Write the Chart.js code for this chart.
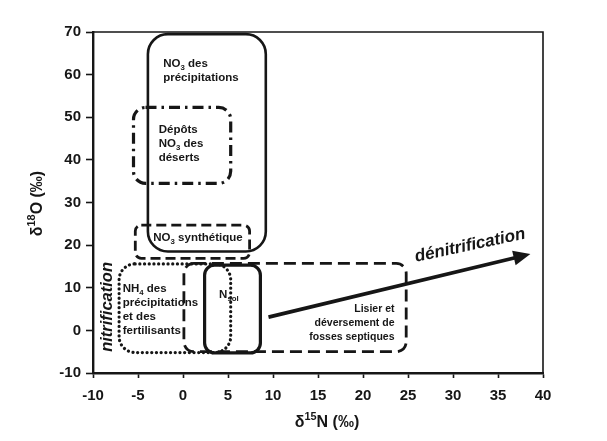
<!DOCTYPE html>
<html><head><meta charset="utf-8">
<script src="https://cdn.jsdelivr.net/npm/chart.js@4/dist/chart.umd.min.js"></script>
<style>html,body{margin:0;padding:0;background:#fff}#wrap{width:607px;height:441px}</style>
</head><body><div id="wrap"><canvas id="c" width="607" height="441"></canvas></div>
<script>
// ---- data ----
const xTicks = [-10, -5, 0, 5, 10, 15, 20, 25, 30, 35, 40];
const yTicks = [-10, 0, 10, 20, 30, 40, 50, 60, 70];
const boxNames = ['NO3 des précipitations', 'Dépôts NO3 des déserts', 'NO3 synthétique',
                  'NH4 des précipitations et des fertilisants', 'N sol', 'Lisier et déversement de fosses septiques'];
const boxXMin = [-3.9, -5.5, -5.3, -7.1, 2.4, 0.1];
const boxXMax = [9.2, 5.3, 7.4, 5.3, 8.6, 24.8];
const boxYMin = [18.5, 34.5, 16.9, -5.2, -5.3, -5.0];
const boxYMax = [69.5, 52.3, 24.7, 15.6, 15.3, 15.7];
const arrowX = [9.5, 38.6];
const arrowY = [3.1, 17.9];

// ---- styles (not data) ----
const INK = '#161616';
const FAM = '"Liberation Sans", Arial, sans-serif';
const boxStyles = [
  {dash: [], width: 2.6, radius: 20, cap: 'butt'},
  {dash: [11, 5, 2.5, 5], width: 3.2, radius: 12, cap: 'butt'},
  {dash: [10, 5], width: 2.8, radius: 6, cap: 'butt'},
  {dash: [0.1, 4.6], width: 3.2, radius: 16, cap: 'round'},
  {dash: [], width: 3.2, radius: 10, cap: 'butt'},
  {dash: [12, 6], width: 2.8, radius: 10, cap: 'butt'}
];
// annotation text (anchor in data units)
const notes = [
  {x: -2.2, y: 62.5, align: 'left', size: 11.5, lines: [[['NO'], ['3', 'sub'], [' des']], [['précipitations']]]},
  {x: -2.7, y: 47.0, align: 'left', size: 11.5, lines: [[['Dépôts']], [['NO'], ['3', 'sub'], [' des']], [['déserts']]]},
  {x: -3.3, y: 21.7, align: 'left', size: 11.5, lines: [[['NO'], ['3', 'sub'], [' synthétique']]]},
  {x: -6.7, y: 9.7, align: 'left', size: 11.5, lines: [[['NH'], ['4', 'sub'], [' des']], [['précipitations']], [['et des']], [['fertilisants']]]},
  {x: 5.1, y: 8.3, align: 'center', size: 11.5, lines: [[['N'], ['sol', 'sub']]]},
  {x: 23.5, y: 4.9, align: 'right', size: 10.5, lines: [[['Lisier et']], [['déversement de']], [['fosses septiques']]]}
];

function segFont(size, kind, extra) {
  const s = kind ? size * 0.68 : size;
  return (extra || '') + 'bold ' + s + 'px ' + FAM;
}
function richWidth(ctx, segs, size, extra) {
  let w = 0;
  for (const sg of segs) { ctx.font = segFont(size, sg[1], extra); w += ctx.measureText(sg[0]).width; }
  return w;
}
function drawRich(ctx, segs, x, y, align, size, extra) {
  const w = richWidth(ctx, segs, size, extra);
  let cx = align === 'left' ? x : align === 'right' ? x - w : x - w / 2;
  ctx.textAlign = 'left';
  ctx.textBaseline = 'middle';
  for (const sg of segs) {
    ctx.font = segFont(size, sg[1], extra);
    let dy = 0;
    if (sg[1] === 'sub') dy = size * 0.32;
    if (sg[1] === 'sup') dy = -size * 0.35;
    ctx.fillText(sg[0], cx, y + dy);
    cx += ctx.measureText(sg[0]).width;
  }
}
function roundRectPath(ctx, x, y, w, h, r) {
  r = Math.min(r, w / 2, h / 2);
  ctx.beginPath();
  ctx.moveTo(x + r, y);
  ctx.lineTo(x + w - r, y);
  ctx.arcTo(x + w, y, x + w, y + r, r);
  ctx.lineTo(x + w, y + h - r);
  ctx.arcTo(x + w, y + h, x + w - r, y + h, r);
  ctx.lineTo(x + r, y + h);
  ctx.arcTo(x, y + h, x, y + h - r, r);
  ctx.lineTo(x, y + r);
  ctx.arcTo(x, y, x + r, y, r);
  ctx.closePath();
}

const diagram = {
  id: 'diagram',
  afterDraw(chart) {
    const ctx = chart.ctx, xs = chart.scales.x, ys = chart.scales.y, a = chart.chartArea;
    const X = v => xs.getPixelForValue(v), Y = v => ys.getPixelForValue(v);
    ctx.save();
    ctx.fillStyle = INK; ctx.strokeStyle = INK;
    // frame top/right
    ctx.lineWidth = 1.6; ctx.setLineDash([]);
    ctx.beginPath(); ctx.moveTo(a.left, a.top); ctx.lineTo(a.right, a.top); ctx.lineTo(a.right, a.bottom); ctx.stroke();
    // boxes
    for (let i = 0; i < boxNames.length; i++) {
      const st = boxStyles[i];
      const x0 = X(boxXMin[i]), x1 = X(boxXMax[i]), y0 = Y(boxYMax[i]), y1 = Y(boxYMin[i]);
      ctx.lineWidth = st.width; ctx.setLineDash(st.dash); ctx.lineCap = st.cap;
      roundRectPath(ctx, x0, y0, x1 - x0, y1 - y0, st.radius);
      ctx.stroke();
    }
    ctx.setLineDash([]); ctx.lineCap = 'butt';
    // arrow
    const sx = X(arrowX[0]), sy = Y(arrowY[0]), tx = X(arrowX[1]), ty = Y(arrowY[1]);
    const ang = Math.atan2(ty - sy, tx - sx), hl = 17, hw = 7.5;
    ctx.lineWidth = 3.8;
    ctx.beginPath(); ctx.moveTo(sx, sy); ctx.lineTo(tx - Math.cos(ang) * hl * 0.8, ty - Math.sin(ang) * hl * 0.8); ctx.stroke();
    ctx.beginPath();
    ctx.moveTo(tx, ty);
    ctx.lineTo(tx - Math.cos(ang) * hl - Math.sin(ang) * hw, ty - Math.sin(ang) * hl + Math.cos(ang) * hw);
    ctx.lineTo(tx - Math.cos(ang) * hl + Math.sin(ang) * hw, ty - Math.sin(ang) * hl - Math.cos(ang) * hw);
    ctx.closePath(); ctx.fill();
    // box labels
    for (const n of notes) {
      const bx = X(n.x), by = Y(n.y);
      n.lines.forEach((ln, k) => drawRich(ctx, ln, bx, by + k * 14, n.align, n.size));
    }
    // nitrification
    ctx.save();
    ctx.translate(X(-8.4), Y(5.5)); ctx.rotate(-Math.PI / 2);
    ctx.font = 'italic bold 16.5px ' + FAM; ctx.textAlign = 'center'; ctx.textBaseline = 'middle';
    ctx.fillText('nitrification', 0, 0);
    ctx.restore();
    // dénitrification
    ctx.save();
    ctx.translate(X(31.9), Y(19.9)); ctx.rotate(-12 * Math.PI / 180);
    ctx.font = 'italic bold 17px ' + FAM; ctx.textAlign = 'center'; ctx.textBaseline = 'middle';
    ctx.fillText('dénitrification', 0, 0);
    ctx.restore();
    // axis titles
    drawRich(ctx, [['δ'], ['15', 'sup'], ['N (‰)']], (a.left + a.right) / 2 + 9, a.bottom + 50, 'center', 16);
    ctx.save();
    ctx.translate(a.left - 55, (a.top + a.bottom) / 2 + 1); ctx.rotate(-Math.PI / 2);
    drawRich(ctx, [['δ'], ['18', 'sup'], ['O (‰)']], 0, 0, 'center', 16);
    ctx.restore();
    ctx.restore();
  }
};

const tickFont = {family: FAM, weight: 'bold', size: 15};
new Chart(document.getElementById('c'), {
  type: 'scatter',
  data: {datasets: []},
  options: {
    responsive: false, animation: false, devicePixelRatio: 1,
    layout: {padding: {top: 32, right: 64, left: 0, bottom: 0}},
    plugins: {legend: {display: false}, tooltip: {enabled: false}},
    scales: {
      x: {
        type: 'linear', min: -10, max: 40,
        afterBuildTicks: s => { s.ticks = xTicks.map(v => ({value: v})); },
        ticks: {color: INK, font: tickFont, padding: 9, maxRotation: 0, autoSkip: false},
        grid: {drawOnChartArea: false, drawTicks: true, tickLength: 5, tickColor: INK, tickWidth: 1.6},
        border: {color: INK, width: 2.4},
        afterFit: s => { s.height = 68; }
      },
      y: {
        type: 'linear', min: -10, max: 70,
        afterBuildTicks: s => { s.ticks = yTicks.map(v => ({value: v})); },
        ticks: {color: INK, font: tickFont, padding: 5, autoSkip: false},
        grid: {drawOnChartArea: false, drawTicks: true, tickLength: 7, tickColor: INK, tickWidth: 1.6},
        border: {color: INK, width: 2.4},
        afterFit: s => { s.width = 93; }
      }
    }
  },
  plugins: [diagram]
});
</script>
</body></html>
